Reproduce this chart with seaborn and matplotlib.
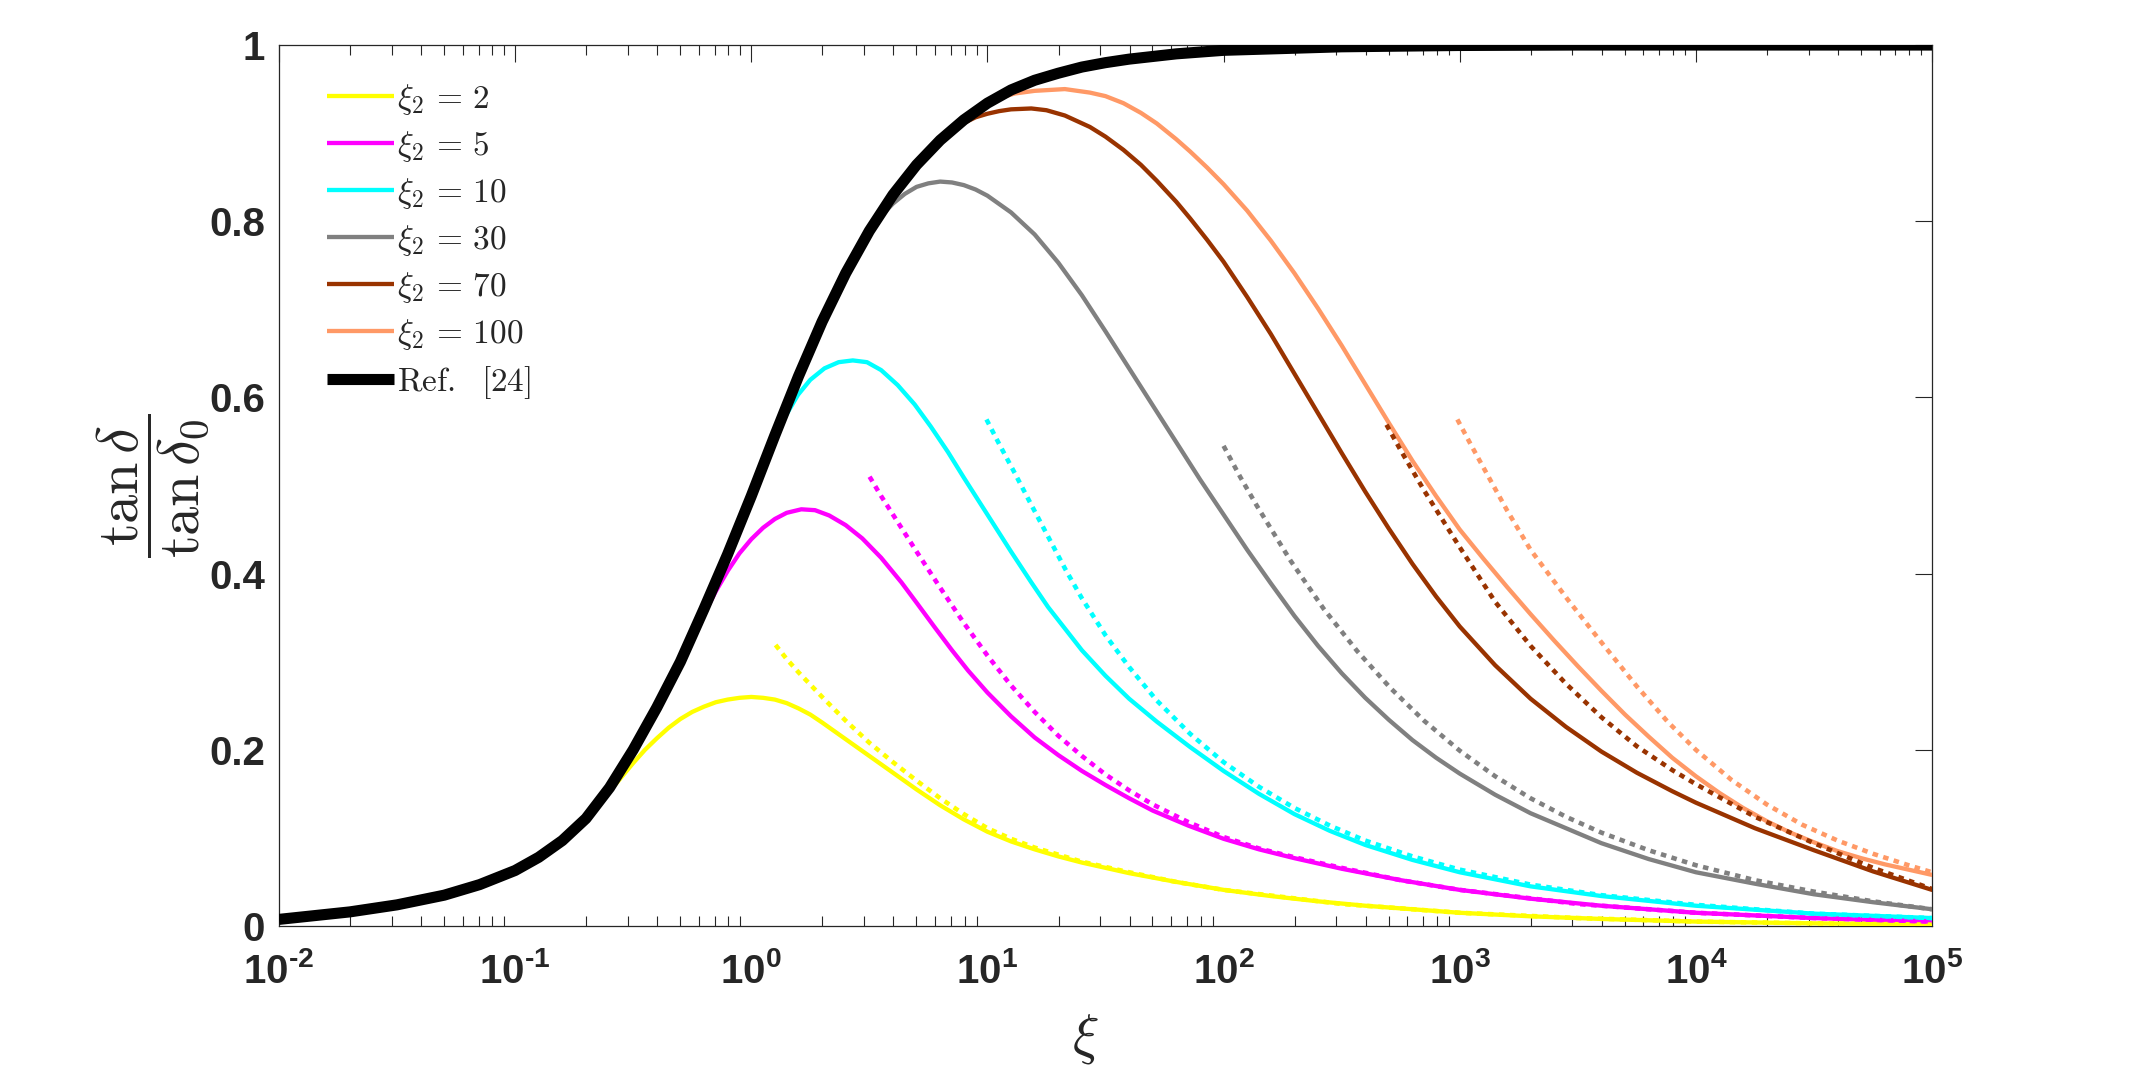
import numpy as np
import pandas as pd
import matplotlib
matplotlib.use('Agg')
import matplotlib.pyplot as plt
import matplotlib.ticker as mticker
import seaborn as sns

# ---------------- data: (log10 xi, value) ----------------
ref_logxi = [-2.0, -1.7, -1.5, -1.3, -1.15, -1.0, -0.9, -0.8, -0.7, -0.6, -0.5, -0.4, -0.3,
             -0.2, -0.1, 0.0, 0.1, 0.2, 0.3, 0.4, 0.5, 0.6, 0.7, 0.8, 0.9, 1.0, 1.1, 1.2,
             1.3, 1.4, 1.5, 1.6, 1.8, 2.0, 2.25, 2.5, 3.0, 3.5, 5.0]
ref_val = [0.0075, 0.016, 0.024, 0.035, 0.047, 0.063, 0.078, 0.097, 0.122, 0.157, 0.2, 0.248,
           0.30, 0.36, 0.422, 0.488, 0.557, 0.624, 0.686, 0.741, 0.789, 0.83, 0.864, 0.892,
           0.915, 0.934, 0.949, 0.96, 0.968, 0.975, 0.98, 0.984, 0.99, 0.994, 0.996, 0.998,
           0.9995, 1.0, 1.0]

xi2_labels = ["2", "5", "10", "30", "70", "100"]
colors = ["#FFFF00", "#FF00FF", "#00FFFF", "#808080", "#993300", "#FF9966"]

y2_logxi = [-0.62, -0.568, -0.5, -0.45, -0.4, -0.35, -0.3, -0.25, -0.2, -0.15, -0.1, -0.05,
            0.0, 0.05, 0.1, 0.15, 0.2, 0.25, 0.3, 0.4, 0.5, 0.6, 0.7, 0.8, 0.9, 1.0, 1.1, 1.2,
            1.3, 1.4, 1.5, 1.6, 1.8, 2.0, 2.2, 2.4, 2.6, 2.8, 3.0, 3.3, 3.6, 4.0, 4.5, 5.0]
y2_val = [0.148, 0.163, 0.185, 0.2, 0.213, 0.225, 0.235, 0.243, 0.249, 0.254, 0.257, 0.259,
          0.26, 0.259, 0.257, 0.253, 0.247, 0.24, 0.231, 0.212, 0.193, 0.174, 0.155, 0.137,
          0.121, 0.107, 0.096, 0.087, 0.079, 0.072, 0.066, 0.06, 0.05, 0.041, 0.034, 0.028,
          0.023, 0.019, 0.015, 0.011, 0.008, 0.005, 0.003, 0.0015]
y2_dot_logxi = [0.103, 0.15, 0.2, 0.3, 0.4, 0.5, 0.6, 0.7, 0.8, 0.9, 1.0, 1.1, 1.2, 1.4, 1.6,
                1.8, 2.0, 2.5, 3.0, 3.5, 4.0, 4.5, 5.0]
y2_dot_val = [0.319, 0.303, 0.288, 0.26, 0.233, 0.208, 0.186, 0.165, 0.145, 0.127, 0.111,
              0.099, 0.089, 0.073, 0.061, 0.05, 0.041, 0.025, 0.015, 0.009, 0.005, 0.003,
              0.0015]

y5_logxi = [-0.3, -0.25, -0.212, -0.15, -0.1, -0.05, 0.0, 0.05, 0.1, 0.15, 0.212, 0.27, 0.33,
            0.4, 0.47, 0.55, 0.636, 0.7, 0.777, 0.85, 0.918, 1.0, 1.1, 1.2, 1.3, 1.4, 1.5,
            1.6, 1.7, 1.85, 2.0, 2.15, 2.3, 2.5, 2.75, 3.0, 3.3, 3.6, 4.0, 4.5, 5.0]
y5_val = [0.30, 0.327, 0.348, 0.38, 0.403, 0.423, 0.439, 0.452, 0.462, 0.469, 0.473, 0.472,
          0.466, 0.455, 0.44, 0.418, 0.39, 0.367, 0.339, 0.313, 0.29, 0.265, 0.238, 0.214,
          0.194, 0.176, 0.16, 0.145, 0.131, 0.114, 0.099, 0.087, 0.077, 0.065, 0.052, 0.041,
          0.031, 0.023, 0.015, 0.009, 0.005]
y5_dot_logxi = [0.501, 0.55, 0.6, 0.7, 0.8, 0.9, 1.0, 1.1, 1.2, 1.3, 1.4, 1.5, 1.6, 1.7,
                1.85, 2.0, 2.15, 2.3, 2.5, 2.75, 3.0, 3.5, 4.0, 4.5, 5.0]
y5_dot_val = [0.51, 0.488, 0.467, 0.425, 0.384, 0.344, 0.307, 0.273, 0.243, 0.216, 0.193,
              0.172, 0.154, 0.138, 0.118, 0.101, 0.088, 0.078, 0.066, 0.052, 0.041, 0.025,
              0.015, 0.009, 0.005]

y10_logxi = [0.0, 0.078, 0.13, 0.198, 0.25, 0.31, 0.37, 0.43, 0.49, 0.55, 0.62, 0.692, 0.76,
             0.833, 0.9, 1.0, 1.1, 1.186, 1.257, 1.33, 1.4, 1.5, 1.6, 1.717, 1.859, 2.0,
             2.15, 2.3, 2.45, 2.6, 2.8, 3.0, 3.3, 3.6, 4.0, 4.5, 5.0]
y10_val = [0.486, 0.542, 0.572, 0.603, 0.62, 0.633, 0.64, 0.642, 0.64, 0.631, 0.614, 0.592,
           0.567, 0.538, 0.509, 0.467, 0.425, 0.39, 0.362, 0.337, 0.313, 0.284, 0.258, 0.232,
           0.203, 0.176, 0.15, 0.127, 0.108, 0.092, 0.075, 0.061, 0.045, 0.034, 0.023, 0.014,
           0.009]
y10_dot_logxi = [0.996, 1.05, 1.116, 1.186, 1.257, 1.33, 1.4, 1.5, 1.6, 1.717, 1.859, 2.0,
                 2.15, 2.3, 2.45, 2.6, 2.8, 3.0, 3.3, 3.6, 4.0, 4.5, 5.0]
y10_dot_val = [0.575, 0.547, 0.514, 0.478, 0.442, 0.405, 0.372, 0.33, 0.294, 0.256, 0.218,
               0.186, 0.158, 0.134, 0.114, 0.097, 0.079, 0.064, 0.047, 0.035, 0.024, 0.014,
               0.009]

y30_logxi = [0.45, 0.5, 0.55, 0.6, 0.65, 0.7, 0.75, 0.8, 0.85, 0.9, 0.95, 1.0, 1.1, 1.2, 1.3,
             1.4, 1.5, 1.6, 1.7, 1.8, 1.9, 2.0, 2.1, 2.2, 2.3, 2.4, 2.5, 2.6, 2.7, 2.8, 2.9,
             3.0, 3.15, 3.3, 3.45, 3.6, 3.8, 4.0, 4.25, 4.5, 4.75, 5.0]
y30_val = [0.766, 0.789, 0.806, 0.82, 0.831, 0.839, 0.843, 0.845, 0.844, 0.841, 0.836, 0.829,
           0.81, 0.785, 0.753, 0.716, 0.675, 0.633, 0.591, 0.549, 0.507, 0.467, 0.427, 0.389,
           0.352, 0.318, 0.287, 0.259, 0.234, 0.211, 0.191, 0.173, 0.149, 0.128, 0.111,
           0.094, 0.076, 0.061, 0.048, 0.036, 0.027, 0.019]
y30_dot_logxi = [2.0, 2.07, 2.141, 2.283, 2.424, 2.566, 2.707, 2.849, 3.0, 3.15, 3.3, 3.45,
                 3.6, 3.8, 4.0, 4.25, 4.5, 4.75, 5.0]
y30_dot_val = [0.545, 0.51, 0.477, 0.415, 0.36, 0.312, 0.27, 0.233, 0.199, 0.17, 0.145,
               0.124, 0.106, 0.086, 0.069, 0.052, 0.039, 0.028, 0.019]

y70_logxi = [0.85, 0.904, 0.95, 1.0, 1.05, 1.1, 1.186, 1.25, 1.328, 1.434, 1.5, 1.576, 1.65,
             1.717, 1.8, 1.859, 1.93, 2.0, 2.1, 2.2, 2.3, 2.4, 2.5, 2.6, 2.7, 2.8, 2.9, 3.0,
             3.15, 3.3, 3.45, 3.6, 3.75, 3.9, 4.0, 4.25, 4.5, 4.75, 5.0]
y70_val = [0.903, 0.912, 0.918, 0.922, 0.925, 0.927, 0.928, 0.926, 0.92, 0.907, 0.896, 0.881,
           0.864, 0.846, 0.822, 0.803, 0.779, 0.754, 0.714, 0.672, 0.627, 0.582, 0.537,
           0.493, 0.451, 0.411, 0.374, 0.34, 0.296, 0.258, 0.226, 0.198, 0.174, 0.153, 0.14,
           0.111, 0.086, 0.062, 0.041]
y70_dot_logxi = [2.69, 2.75, 2.85, 3.0, 3.15, 3.3, 3.45, 3.6, 3.75, 3.9, 4.0, 4.25, 4.5,
                 4.75, 5.0]
y70_dot_val = [0.569, 0.54, 0.494, 0.43, 0.368, 0.318, 0.275, 0.237, 0.204, 0.177, 0.161,
               0.124, 0.094, 0.066, 0.042]

y100_logxi = [1.0, 1.05, 1.116, 1.2, 1.328, 1.434, 1.5, 1.576, 1.65, 1.717, 1.8, 1.859, 1.93,
              2.0, 2.1, 2.2, 2.3, 2.4, 2.5, 2.6, 2.7, 2.8, 2.9, 3.0, 3.1, 3.2, 3.3, 3.4, 3.5,
              3.6, 3.7, 3.8, 3.9, 4.0, 4.1, 4.2, 4.3, 4.4, 4.5, 4.6, 4.7, 4.8, 4.9, 5.0]
y100_val = [0.934, 0.94, 0.945, 0.948, 0.95, 0.946, 0.942, 0.934, 0.923, 0.911, 0.893, 0.879,
            0.861, 0.842, 0.812, 0.778, 0.741, 0.701, 0.659, 0.615, 0.571, 0.528, 0.488,
            0.45, 0.417, 0.385, 0.354, 0.324, 0.295, 0.267, 0.24, 0.215, 0.191, 0.17, 0.151,
            0.134, 0.119, 0.106, 0.095, 0.085, 0.077, 0.07, 0.064, 0.058]
y100_dot_logxi = [2.99, 3.05, 3.132, 3.2, 3.3, 3.456, 3.6, 3.75, 3.88, 4.0, 4.15, 4.3, 4.45,
                  4.6, 4.75, 4.9, 5.0]
y100_dot_val = [0.575, 0.545, 0.505, 0.472, 0.427, 0.371, 0.322, 0.272, 0.232, 0.2, 0.166,
                0.138, 0.115, 0.097, 0.082, 0.069, 0.061]

xtick_exps = [-2, -1, 0, 1, 2, 3, 4, 5]
ytick_vals = [0, 0.2, 0.4, 0.6, 0.8, 1]
ytick_labels = ["0", "0.2", "0.4", "0.6", "0.8", "1"]

solid_series = [(y2_logxi, y2_val), (y5_logxi, y5_val), (y10_logxi, y10_val),
                (y30_logxi, y30_val), (y70_logxi, y70_val), (y100_logxi, y100_val)]
dotted_series = [(y2_dot_logxi, y2_dot_val), (y5_dot_logxi, y5_dot_val),
                 (y10_dot_logxi, y10_dot_val), (y30_dot_logxi, y30_dot_val),
                 (y70_dot_logxi, y70_dot_val), (y100_dot_logxi, y100_dot_val)]

# ---------------- styling ----------------
sns.set_theme(style='white')
plt.rcParams['font.family'] = ['Liberation Sans', 'DejaVu Sans']
plt.rcParams['mathtext.fontset'] = 'custom'
plt.rcParams['mathtext.rm'] = 'Liberation Sans:bold'
plt.rcParams['mathtext.bf'] = 'Liberation Sans:bold'
plt.rcParams['mathtext.it'] = 'Liberation Sans:bold'
plt.rcParams['axes.unicode_minus'] = False

fig = plt.figure(figsize=(21.36, 10.8), dpi=100)
ax = fig.add_axes([0.1306, 0.1426, 0.9045 - 0.1306, 0.9583 - 0.1426])
ax.set_xscale('log')

for (lx, v), (dlx, dv), c, lab in zip(solid_series, dotted_series, colors, xi2_labels):
    df = pd.DataFrame({'xi': 10 ** np.array(lx), 'val': v})
    sns.lineplot(data=df, x='xi', y='val', ax=ax, color=c, linewidth=3.1, sort=False,
                 label=r'$\xi_2 \,=\, ' + lab + '$', zorder=3)
    dfd = pd.DataFrame({'xi': 10 ** np.array(dlx), 'val': dv})
    sns.lineplot(data=dfd, x='xi', y='val', ax=ax, color=c, linewidth=3.3, sort=False,
                 linestyle=(0, (1.2, 1.2)), dash_capstyle='butt', zorder=3.5)

dfr = pd.DataFrame({'xi': 10 ** np.array(ref_logxi), 'val': ref_val})
sns.lineplot(data=dfr, x='xi', y='val', ax=ax, color='black', linewidth=8.0, sort=False,
             label=r'$\mathrm{Ref.\ \ [24]}$', zorder=5, solid_capstyle='butt')

ax.set_xlim(1e-2, 1e5)
ax.set_ylim(0, 1)
ax.set_xticks([10.0 ** e for e in xtick_exps])
ax.set_xticklabels([r'$\mathbf{10^{' + str(e).replace('-', '\u2010') + '}}$'
                    for e in xtick_exps])
ax.xaxis.set_minor_locator(mticker.LogLocator(base=10, subs=np.arange(2, 10), numticks=100))
ax.xaxis.set_minor_formatter(mticker.NullFormatter())
ax.set_yticks(ytick_vals)
ax.set_yticklabels(ytick_labels, fontweight='bold')

ax.tick_params(axis='both', which='major', direction='in', length=12.5, width=0.8,
               top=True, right=True, labelsize=29, colors='#262626')
ax.tick_params(axis='y', which='major', pad=10)
ax.tick_params(axis='x', which='major', pad=19)
ax.tick_params(axis='x', which='minor', direction='in', length=7, width=0.8,
               top=True, bottom=True, colors='#262626')
for s in ax.spines.values():
    s.set_color('#262626')
    s.set_linewidth(0.9)

xl = ax.set_xlabel(r'$\xi$', fontsize=40)
xl.set_math_fontfamily('cm')
ax.xaxis.set_label_coords(0.488, -0.098)
yl = ax.set_ylabel(r'$\dfrac{\tan\delta}{\tan\delta_0}$', fontsize=42)
yl.set_math_fontfamily('cm')
ax.yaxis.set_label_coords(-0.041, 0.5)

leg = ax.legend(loc='upper left', bbox_to_anchor=(0.021, 0.973), frameon=False,
                fontsize=24, handlelength=2.0, handletextpad=0.1, labelspacing=0.36,
                borderaxespad=0.0)
for t in leg.get_texts():
    t.set_math_fontfamily('cm')
for h in leg.get_lines():
    h.set_solid_capstyle('butt')

fig.savefig('out.png', dpi=100, facecolor='white')
